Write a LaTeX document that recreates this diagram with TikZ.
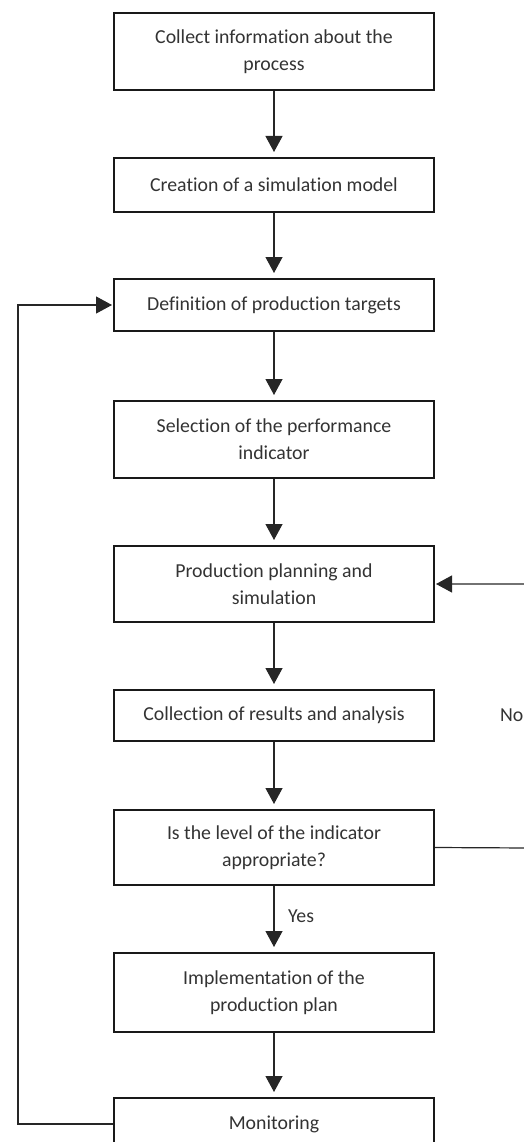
\documentclass[tikz,border=0pt]{standalone}
\usepackage{fontspec}
\setmainfont{Carlito}[Ligatures={NoCommon}]
\usetikzlibrary{arrows.meta}
\begin{document}
\begin{tikzpicture}[x=1pt,y=-1pt,
  box/.style={draw=black!90, line width=2pt, minimum width=320pt, align=center,
    text=black!80, font=\fontsize{19.8}{27}\selectfont, inner sep=0pt},
  conn/.style={draw=black!85, line width=1.2pt, -{Triangle[width=17pt,length=16pt]}, shorten >=5pt},
  lbl/.style={text=black!80, font=\fontsize{19.8}{24}\selectfont, inner sep=0pt}]
\useasboundingbox (0,0) rectangle (523,1142);

\node[box, minimum height=77pt] (b1) at (274,51.5) {Collect information about the\\process};
\node[box, minimum height=54pt] (b2) at (274,185) {Creation of a simulation model};
\node[box, minimum height=52pt] (b3) at (274,305) {Definition of production targets};
\node[box, minimum height=77pt] (b4) at (274,439.5) {Selection of the performance\\indicator};
\node[box, minimum height=76pt] (b5) at (274,584) {Production planning and\\simulation};
\node[box, minimum height=51pt] (b6) at (274,715.5) {Collection of results and analysis};
\node[box, minimum height=75pt] (b7) at (274,847.5) {Is the level of the indicator\\appropriate?};
\node[box, minimum height=79pt] (b8) at (274,992.5) {Implementation of the\\production plan};
\node[box, minimum height=52pt] (b9) at (274,1124) {Monitoring};

\node[lbl, anchor=west] (yes) at (288,916) {Yes};
\node[lbl, anchor=west] (no) at (500,715) {No};

\coordinate (fl) at (18,1124);
\coordinate (fr) at (530,848);

\draw[conn] (b1) -- (b2);
\draw[conn] (b2) -- (b3);
\draw[conn] (b3) -- (b4);
\draw[conn] (b4) -- (b5);
\draw[conn] (b5) -- (b6);
\draw[conn] (b6) -- (b7);
\draw[conn] (b7) -- (b8);
\draw[conn] (b8) -- (b9);
\draw[conn, shorten >=1pt] (b9.west) -- (fl) |- (b3.west);
\draw[conn, shorten >=1pt] (b7.east) -- (fr) |- (b5.east);
\end{tikzpicture}
\end{document}
